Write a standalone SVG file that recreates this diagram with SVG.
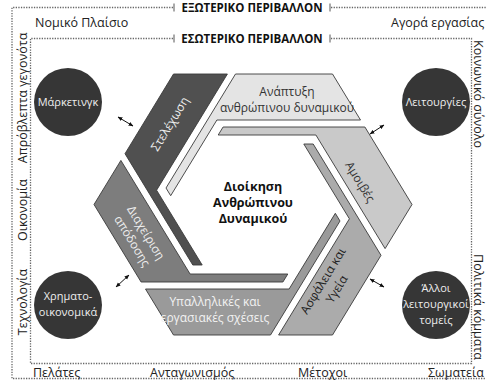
<svg xmlns="http://www.w3.org/2000/svg" width="486" height="387" viewBox="0 0 486 387">
<defs>
<marker id="ah" viewBox="0 0 10 10" refX="9" refY="5" markerWidth="5" markerHeight="5" orient="auto-start-reverse">
<path d="M0,1 L10,5 L0,9 Z" fill="#111"/>
</marker>
<style>
text{font-family:"Open Sans","Noto Sans","DejaVu Sans",sans-serif}
.dot{fill:none;stroke:#666;stroke-width:1.3;stroke-dasharray:1.3 1.3}
.tick{stroke:#555;stroke-width:1}
.title{font-size:11.5px;font-weight:bold;fill:#111;text-anchor:middle}
.env{font-size:12.5px;fill:#222}
.piece{stroke:#3a3a3a;stroke-width:0.9;stroke-linejoin:miter}
.lbl{font-size:12px;text-anchor:middle}
.circ{fill:#363636}
.ctext{font-size:11px;fill:#eeeeee;text-anchor:middle}
.center{font-size:12.5px;font-weight:bold;fill:#111;text-anchor:middle}
.arr{stroke:#111;stroke-width:1;fill:none;marker-start:url(#ah);marker-end:url(#ah)}
</style>
</defs>
<rect width="486" height="387" fill="#fff"/>

<g id="external-environment">
<path class="dot" d="M173,7.5 H12 V378.5 H500 M331,7.5 H500"/>
<line class="tick" x1="174" y1="3.5" x2="174" y2="11.5"/>
<line class="tick" x1="330" y1="3.5" x2="330" y2="11.5"/>
<text class="title" x="252" y="11.5">ΕΞΩΤΕΡΙΚΟ ΠΕΡΙΒΑΛΛΟΝ</text>
<text class="env" x="35" y="27">Νομικό Πλαίσιο</text>
<text class="env" x="391" y="27">Αγορά εργασίας</text>
<text class="env" x="33" y="377">Πελάτες</text>
<text class="env" x="150" y="377">Ανταγωνισμός</text>
<text class="env" x="298" y="377">Μέτοχοι</text>
<text class="env" x="428" y="377">Σωματεία</text>
<text class="env" text-anchor="middle" transform="translate(22,98) rotate(-90)" y="4.5">Απρόβλεπτα γεγονότα</text>
<text class="env" text-anchor="middle" transform="translate(22,210) rotate(-90)" y="4.5">Οικονομία</text>
<text class="env" text-anchor="middle" transform="translate(22,302) rotate(-90)" y="4.5">Τεχνολογία</text>
<text class="env" text-anchor="middle" transform="translate(478,94) rotate(90)" y="4.5">Κοινωνικό σύνολο</text>
<text class="env" text-anchor="middle" transform="translate(478,307) rotate(90)" y="4.5">Πολιτικά κόμματα</text>
</g>

<g id="internal-environment">
<path class="dot" d="M173,38.5 H30.5 V363.5 H471.5 V38.5 H331"/>
<line class="tick" x1="174" y1="34.5" x2="174" y2="42.5"/>
<line class="tick" x1="330" y1="34.5" x2="330" y2="42.5"/>
<text class="title" x="252" y="42.5">ΕΣΩΤΕΡΙΚΟ ΠΕΡΙΒΑΛΛΟΝ</text>
</g>

<g id="anaptyxi">
<polygon class="piece" fill="#e4e4e4" points="332.5,74 360.5,120 216.9,120 170.7,195.7 166,188 235.5,74"/>
<text class="lbl" fill="#333" x="287" y="96">Ανάπτυξη</text>
<text class="lbl" fill="#333" x="287" y="112">ανθρώπινου δυναμικού</text>
</g>

<g id="amoives">
<polygon class="piece" fill="#c9c9c9" points="412,204.5 385.1,248.6 315.9,135 218.2,135 223.1,127 364.9,127"/>
<text class="lbl" fill="#333" transform="translate(360,182) rotate(58.7)" y="4">Αμοιβές</text>
</g>

<g id="asfaleia">
<polygon class="piece" fill="#ababab" points="332.5,335 278.6,335 349.4,218.8 303.8,144 313.2,144 381,255.3"/>
<text class="lbl" fill="#222" transform="translate(330,285) rotate(-58.7)"><tspan x="0" y="-4">Ασφάλεια και</tspan><tspan x="0" y="12">Υγεία</tspan></text>
</g>

<g id="ypallilikes">
<polygon class="piece" fill="#9a9a9a" points="173.5,335 145.5,289 289.1,289 335.3,213.3 340,221 270.5,335"/>
<text class="lbl" fill="#f2f2f2" x="215" y="306">Υπαλληλικές και</text>
<text class="lbl" fill="#f2f2f2" x="215" y="322">εργασιακές σχέσεις</text>
</g>

<g id="diaxeirisi">
<polygon class="piece" fill="#7d7d7d" points="94,204.5 120.9,160.4 190.1,274 287.8,274 282.9,282 141.1,282"/>
<text class="lbl" fill="#eeeeee" transform="translate(139,237) rotate(58.7)"><tspan x="0" y="-4">Διαχείριση</tspan><tspan x="0" y="12">απόδοσης</tspan></text>
</g>

<g id="stelexosi">
<polygon class="piece" fill="#505050" points="173.5,74 227.4,74 156.6,190.2 202.2,265 192.8,265 125,153.7"/>
<text class="lbl" fill="#eeeeee" transform="translate(170,124) rotate(-58.7)" y="4">Στελέχωση</text>
</g>

<g id="center-title">
<text class="center" x="253" y="191">Διοίκηση</text>
<text class="center" x="253" y="207">Ανθρώπινου</text>
<text class="center" x="253" y="223">Δυναμικού</text>
</g>

<g id="marketing">
<circle class="circ" cx="68" cy="102" r="34"/>
<text class="ctext" x="68" y="106">Μάρκετινγκ</text>
</g>
<g id="leitourgies">
<circle class="circ" cx="436" cy="102" r="34"/>
<text class="ctext" x="436" y="106">Λειτουργίες</text>
</g>
<g id="xrimatooikonomika">
<circle class="circ" cx="68" cy="305" r="34"/>
<text class="ctext" x="68" y="300">Χρηματο-</text>
<text class="ctext" x="68" y="316">οικονομικά</text>
</g>
<g id="alloi">
<circle class="circ" cx="436" cy="305" r="34"/>
<text class="ctext" x="436" y="292">Άλλοι</text>
<text class="ctext" x="436" y="308">λειτουργικοί</text>
<text class="ctext" x="436" y="324">τομείς</text>
</g>

<g id="connectors">
<line class="arr" x1="118" y1="117" x2="133" y2="126"/>
<line class="arr" x1="370" y1="134" x2="384" y2="125"/>
<line class="arr" x1="116" y1="287" x2="129" y2="275"/>
<line class="arr" x1="370" y1="279" x2="384" y2="287"/>
</g>
</svg>
